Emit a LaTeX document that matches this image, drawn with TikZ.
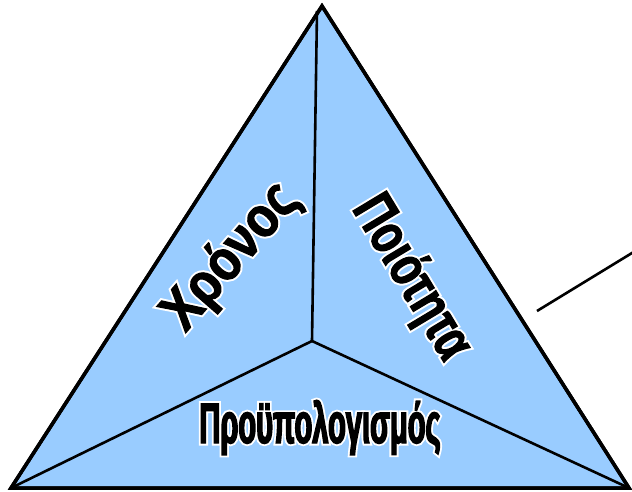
\documentclass[tikz,border=0pt]{standalone}
\usepackage{fontspec}
\setmainfont{Liberation Sans}
\newfontfamily\budgetW[FakeStretch=0.51,FakeBold=9]{Liberation Sans Bold}
\newfontfamily\budgetB[FakeStretch=0.51,FakeBold=2.5]{Liberation Sans Bold}
\newfontfamily\timeW[FakeStretch=0.86,FakeBold=9]{Liberation Sans Bold}
\newfontfamily\timeB[FakeStretch=0.86,FakeBold=2]{Liberation Sans Bold}
\newfontfamily\qualW[FakeStretch=0.74,FakeBold=9]{Liberation Sans Bold}
\newfontfamily\qualB[FakeStretch=0.74,FakeBold=2]{Liberation Sans Bold}
\definecolor{fillblue}{HTML}{99CCFF}
\newcommand\halotext[3]{%
  \fontsize{57}{60}\selectfont
  \rlap{\textcolor{white}{#1#3}}{#2#3}}
\tikzset{
  tri/.style={fill=fillblue, draw=black, line width=3.5pt, line join=miter},
  trioutline/.style={draw=black, line width=3.5pt, line join=miter},
  inner/.style={draw=black, line width=2.6pt},
  lbl/.style={inner sep=0pt, anchor=base}
}
\begin{document}
\begin{tikzpicture}[x=1pt,y=-1pt]
\useasboundingbox (0,0) rectangle (632,492);
\clip (0,0) rectangle (632,492);
\coordinate (A) at (322,6);
\coordinate (B) at (11,488);
\coordinate (C) at (629,488);
\coordinate (O) at (312,341);
\coordinate (T) at (317,11);
\coordinate (L1) at (537,311);
\coordinate (L2) at (650,242);
\path[tri] (A) -- (C) -- (B) -- cycle;
\draw[inner] (O) -- (T);
\draw[inner] (O) -- (B);
\draw[inner] (O) -- (C);
\draw[trioutline] (A) -- (C) -- (B) -- cycle;
\draw[inner] (L1) -- (L2);
\node[lbl] (budget) at (320,443) {\halotext{\budgetW}{\budgetB}{Προϋπολογισμός}};
\node[lbl, rotate=49] (time) at (243,267) {\halotext{\timeW}{\timeB}{Χρόνος}};
\node[lbl, rotate=-59] (quality) at (398,286) {\halotext{\qualW}{\qualB}{Ποιότητα}};
\end{tikzpicture}
\end{document}
